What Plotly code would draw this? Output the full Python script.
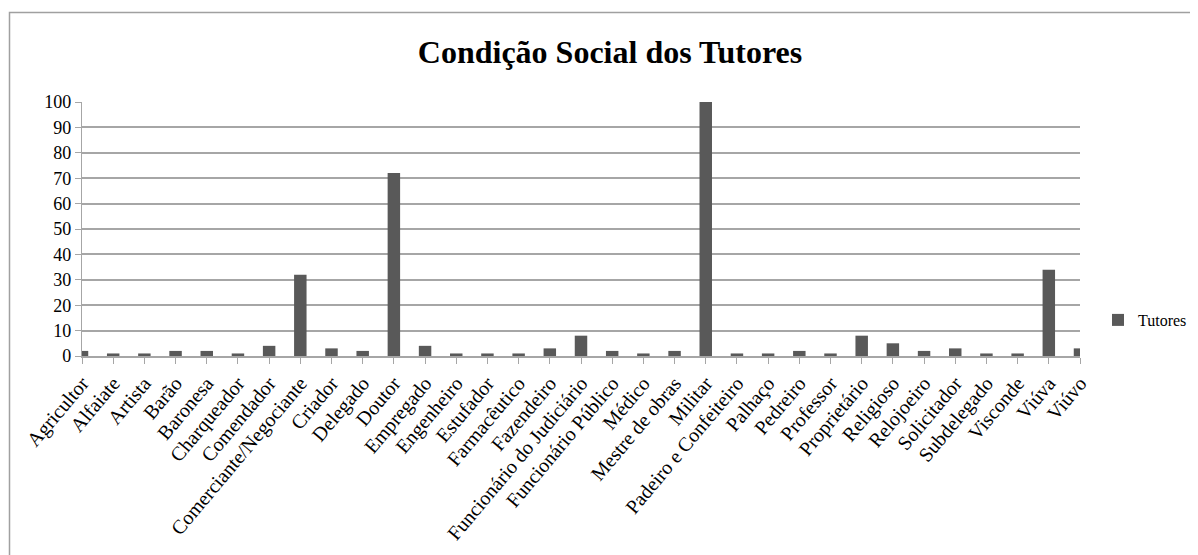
import plotly.graph_objects as go

categories = ["Agricultor", "Alfaiate", "Artista", "Barão", "Baronesa", "Charqueador",
              "Comendador", "Comerciante/Negociante", "Criador", "Delegado", "Doutor",
              "Empregado", "Engenheiro", "Estufador", "Farmacêutico", "Fazendeiro",
              "Funcionário do Judiciário", "Funcionário Público", "Médico", "Mestre de obras",
              "Militar", "Padeiro e Confeiteiro", "Palhaço", "Pedreiro", "Professor",
              "Proprietário", "Religioso", "Relojoeiro", "Solicitador", "Subdelegado",
              "Visconde", "Viúva", "Viúvo"]
tutores = [2, 1, 1, 2, 2, 1, 4, 32, 3, 2, 72, 4, 1, 1, 1, 3, 8, 2, 1, 2, 100, 1, 1, 2, 1,
           8, 5, 2, 3, 1, 1, 34, 3]
y_ticks = [0, 10, 20, 30, 40, 50, 60, 70, 80, 90, 100]

FONT = "Liberation Serif"
GRID = "#a6a6a6"

fig = go.Figure()
fig.add_trace(go.Bar(x=categories, y=tutores, name="Tutores",
                     marker=dict(color="#595959", line=dict(width=0)),
                     width=0.4, showlegend=True))

# page body adds an 8px offset; work in screen pixels and convert
OFF = 8
W, H = 1190, 547
L, R, T, B = 82 - OFF, 118, 102 - OFF, 199
pw = W - L - R
ph = H - T - B

def px2x(p):
    return (p - OFF - L) / pw

def py2y(p):
    return (H - B - (p - OFF)) / ph

fig.update_layout(
    width=W, height=H,
    margin=dict(l=L, r=R, t=T, b=B, autoexpand=False),
    paper_bgcolor="white", plot_bgcolor="white",
    font=dict(family=FONT, color="black"),
    title=dict(text="<b>Condição Social dos Tutores</b>",
               font=dict(family=FONT, size=32, color="black"),
               x=(610 - OFF) / W, xref="container", xanchor="center",
               y=1 - (52 - OFF) / H, yref="container", yanchor="middle"),
    showlegend=True,
    legend=dict(x=px2x(1098), y=py2y(320), xanchor="left", yanchor="middle",
                font=dict(family=FONT, size=16, color="black"),
                bgcolor="rgba(0,0,0,0)", itemwidth=30, tracegroupgap=0),
    bargap=0.6,
    xaxis=dict(type="category", range=[0, len(categories) - 1],
               tickangle=-50, tickfont=dict(family=FONT, size=20, color="black"),
               showline=True, linecolor=GRID, linewidth=1.5,
               ticks="outside", ticklen=6, tickcolor=GRID, tickwidth=1.2,
               showgrid=False, zeroline=False, automargin=False),
    yaxis=dict(range=[0, 100], tickvals=y_ticks,
               tickfont=dict(family=FONT, size=18, color="black"),
               showline=True, linecolor=GRID, linewidth=1.2,
               ticks="outside", ticklen=6, tickcolor=GRID, tickwidth=1.2,
               showgrid=True, gridcolor=GRID, gridwidth=1.5,
               zeroline=False, automargin=False),
    shapes=[dict(type="rect", xref="paper", yref="paper",
                 x0=px2x(9.5), x1=px2x(1230), y0=py2y(590), y1=py2y(12.5),
                 line=dict(color="#a0a0a0", width=1.5), fillcolor="rgba(0,0,0,0)",
                 layer="below")],
)

fig.write_html("out.html")
